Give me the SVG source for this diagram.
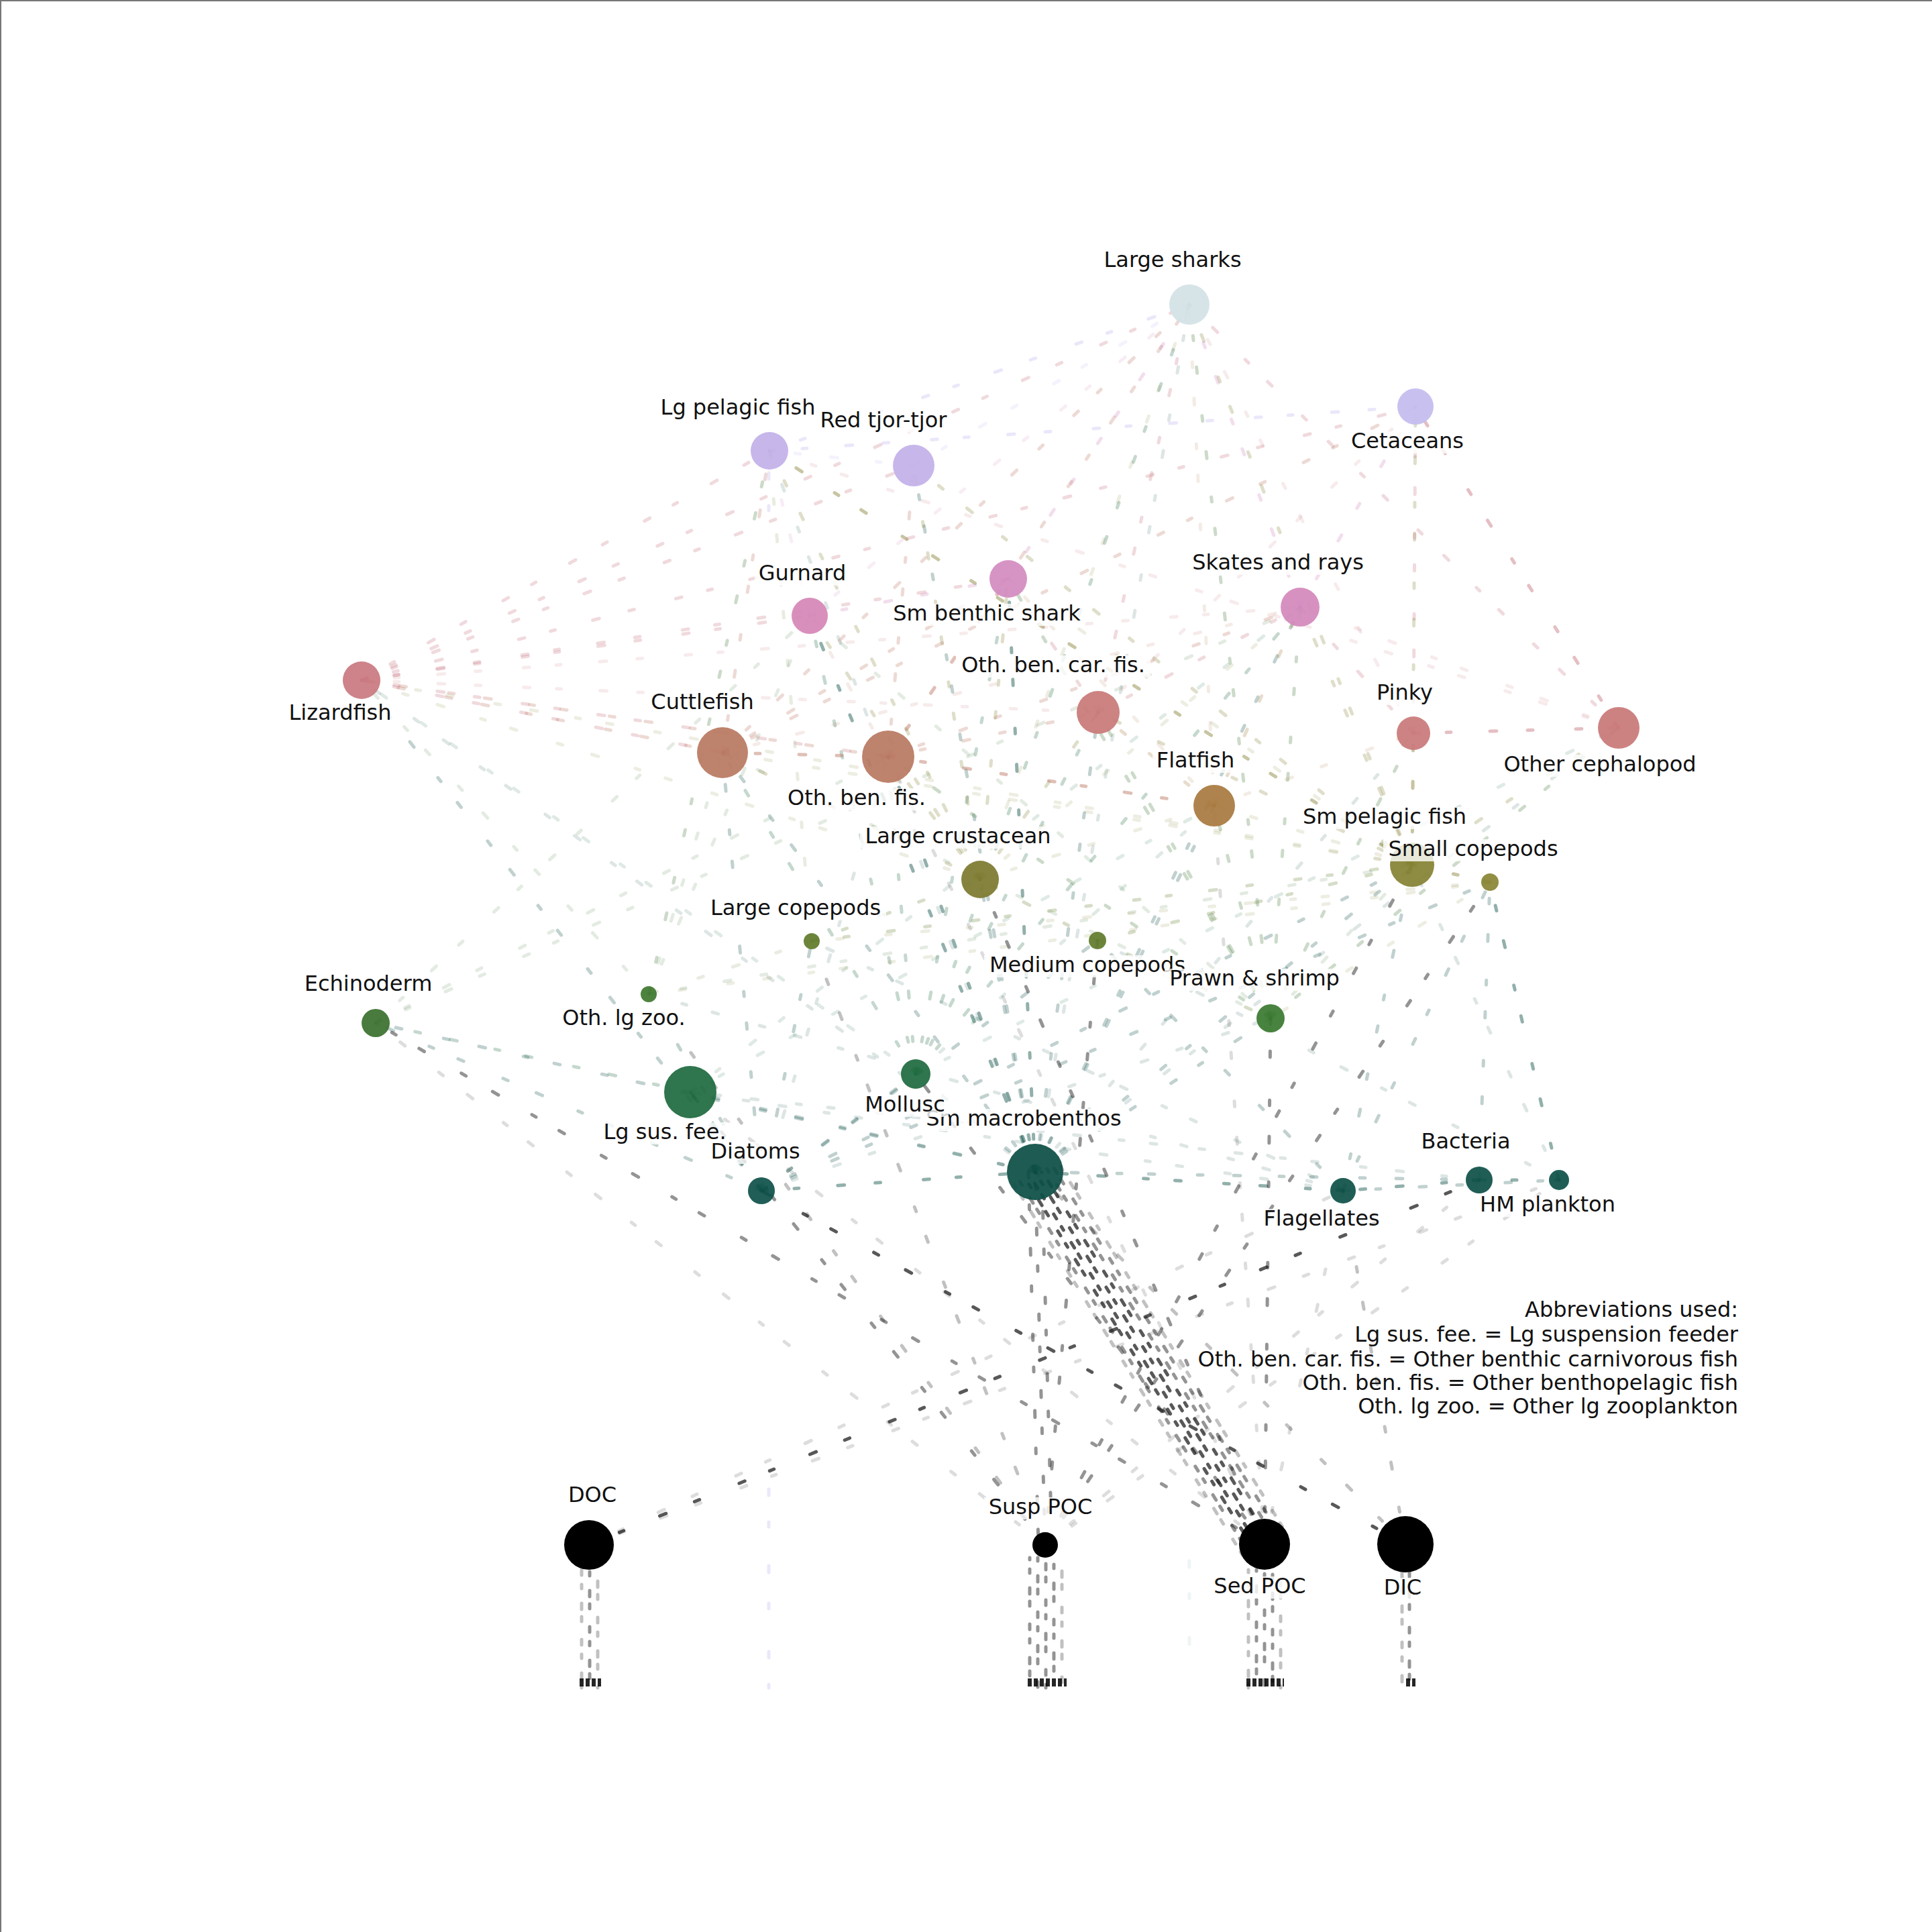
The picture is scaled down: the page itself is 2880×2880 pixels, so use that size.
<svg xmlns="http://www.w3.org/2000/svg" width="2880" height="2880" viewBox="0 0 2880 2880">
<style>
.e{fill:none;stroke-linecap:round;stroke-width:5;stroke-dasharray:9 40 7 58 10 46 8 64}
.v{fill:none;stroke-linecap:round;stroke-width:5;stroke-dasharray:8 14 6 22 9 11 7 27}
.a1{stroke-opacity:.14}.a2{stroke-opacity:.26}.a3{stroke-opacity:.45}.a4{stroke-opacity:.7}
.gd{stroke:#0d4f45}.gm{stroke:#3a7430}.gs{stroke:#1f6a40}.ol{stroke:#827e32}.oc{stroke:#5f7a2a}
.br{stroke:#b8705e}.rd{stroke:#c4707a}.pk{stroke:#cc7fb4}.ff{stroke:#a8793f}.lv{stroke:#b3a2ea}.lb{stroke:#bcd3da}.bk{stroke:#111}
.n{stroke:none;fill-opacity:.93}
.lb-box{fill:#fff;fill-opacity:.8}
text{font-family:"DejaVu Sans","Liberation Sans",sans-serif;font-size:32px;fill:#111;text-anchor:middle}
.abbr{text-anchor:end}
</style>
<rect width="2880" height="2880" fill="#fff"/>
<path d="M1 2880V1H2880" fill="none" stroke="#777" stroke-width="2"/>
<g id="connectors">
<line class="e gd a1" x1="1543" y1="1747" x2="539" y2="1014"/>
<line class="e gd a3" x1="1543" y1="1747" x2="1207" y2="918"/>
<line class="e gd a2" x1="1543" y1="1747" x2="1077" y2="1122"/>
<line class="e gd a3" x1="1543" y1="1747" x2="1324" y2="1128"/>
<line class="e gd a2" x1="1543" y1="1747" x2="1637" y2="1062"/>
<line class="e gd a2" x1="1543" y1="1747" x2="1810" y2="1201"/>
<line class="e gd a3" x1="1543" y1="1747" x2="1503" y2="863"/>
<line class="e gd a2" x1="1543" y1="1747" x2="1938" y2="905"/>
<line class="e gd a2" x1="1543" y1="1747" x2="1461" y2="1311"/>
<line class="e gd a2" x1="1543" y1="1747" x2="1894" y2="1518"/>
<line class="e gd a2" x1="1543" y1="1747" x2="560" y2="1525"/>
<line class="e gd a1" x1="1543" y1="1747" x2="2107" y2="1093"/>
<line class="e gd a2" x1="1543" y1="1747" x2="1362" y2="694"/>
<line class="e gd a1" x1="1543" y1="1747" x2="1147" y2="672"/>
<line class="e gd a1" x1="1543" y1="1747" x2="2413" y2="1085"/>
<line class="e gd a2" x1="1543" y1="1747" x2="2105" y2="1289"/>
<line class="e gd a2" x1="1543" y1="1747" x2="1029" y2="1628"/>
<line class="e gd a2" x1="1543" y1="1747" x2="1365" y2="1601"/>
<line class="e gd a1" x1="1543" y1="1747" x2="1773" y2="454"/>
<line class="e gd a3" x1="1135" y1="1775" x2="1029" y2="1628"/>
<line class="e gd a2" x1="1135" y1="1775" x2="1365" y2="1601"/>
<line class="e gd a2" x1="1135" y1="1775" x2="967" y2="1482"/>
<line class="e gd a2" x1="1135" y1="1775" x2="2221" y2="1315"/>
<line class="e gd a2" x1="1135" y1="1775" x2="1636" y2="1402"/>
<line class="e gd a2" x1="1135" y1="1775" x2="1210" y2="1403"/>
<line class="e gd a3" x1="1135" y1="1775" x2="1543" y2="1747"/>
<line class="e gd a2" x1="1135" y1="1775" x2="560" y2="1525"/>
<line class="e gd a1" x1="1135" y1="1775" x2="1894" y2="1518"/>
<line class="e gd a2" x1="1135" y1="1775" x2="2105" y2="1289"/>
<line class="e gd a2" x1="1135" y1="1775" x2="1077" y2="1122"/>
<line class="e gd a2" x1="1135" y1="1775" x2="539" y2="1014"/>
<line class="e gd a1" x1="1135" y1="1775" x2="1324" y2="1128"/>
<line class="e gd a2" x1="2002" y1="1775" x2="2221" y2="1315"/>
<line class="e gd a2" x1="2002" y1="1775" x2="1636" y2="1402"/>
<line class="e gd a1" x1="2002" y1="1775" x2="1210" y2="1403"/>
<line class="e gd a1" x1="2002" y1="1775" x2="1029" y2="1628"/>
<line class="e gd a3" x1="2002" y1="1775" x2="1543" y2="1747"/>
<line class="e gd a2" x1="2002" y1="1775" x2="2324" y2="1759"/>
<line class="e gd a1" x1="2002" y1="1775" x2="967" y2="1482"/>
<line class="e gd a2" x1="2002" y1="1775" x2="2105" y2="1289"/>
<line class="e gd a3" x1="2205" y1="1759" x2="2002" y2="1775"/>
<line class="e gd a3" x1="2205" y1="1759" x2="2324" y2="1759"/>
<line class="e gd a2" x1="2205" y1="1759" x2="1543" y2="1747"/>
<line class="e gd a1" x1="2205" y1="1759" x2="1029" y2="1628"/>
<line class="e gd a2" x1="2205" y1="1759" x2="2221" y2="1315"/>
<line class="e gd a3" x1="2324" y1="1759" x2="2221" y2="1315"/>
<line class="e gd a1" x1="2324" y1="1759" x2="1636" y2="1402"/>
<line class="e gd a1" x1="2324" y1="1759" x2="2105" y2="1289"/>
<line class="e gm a1" x1="560" y1="1525" x2="1938" y2="905"/>
<line class="e gm a1" x1="560" y1="1525" x2="1207" y2="918"/>
<line class="e gm a1" x1="560" y1="1525" x2="1324" y2="1128"/>
<line class="e gm a2" x1="1894" y1="1518" x2="1810" y2="1201"/>
<line class="e gm a2" x1="1894" y1="1518" x2="1637" y2="1062"/>
<line class="e gm a2" x1="1894" y1="1518" x2="2107" y2="1093"/>
<line class="e gm a2" x1="1894" y1="1518" x2="1938" y2="905"/>
<line class="e gm a1" x1="1894" y1="1518" x2="1207" y2="918"/>
<line class="e gm a2" x1="1894" y1="1518" x2="1324" y2="1128"/>
<line class="e gm a1" x1="1894" y1="1518" x2="1077" y2="1122"/>
<line class="e gm a2" x1="1894" y1="1518" x2="1503" y2="863"/>
<line class="e gm a2" x1="1894" y1="1518" x2="2413" y2="1085"/>
<line class="e gm a2" x1="1894" y1="1518" x2="1773" y2="454"/>
<line class="e gm a1" x1="1894" y1="1518" x2="2105" y2="1289"/>
<line class="e gm a1" x1="967" y1="1482" x2="2105" y2="1289"/>
<line class="e gm a2" x1="967" y1="1482" x2="1147" y2="672"/>
<line class="e gm a1" x1="967" y1="1482" x2="1077" y2="1122"/>
<line class="e gm a1" x1="967" y1="1482" x2="539" y2="1014"/>
<line class="e gm a1" x1="967" y1="1482" x2="1207" y2="918"/>
<line class="e gs a2" x1="1029" y1="1628" x2="560" y2="1525"/>
<line class="e gs a1" x1="1029" y1="1628" x2="1938" y2="905"/>
<line class="e gs a1" x1="1029" y1="1628" x2="1810" y2="1201"/>
<line class="e gs a2" x1="1365" y1="1601" x2="1077" y2="1122"/>
<line class="e gs a2" x1="1365" y1="1601" x2="1324" y2="1128"/>
<line class="e gs a2" x1="1365" y1="1601" x2="1938" y2="905"/>
<line class="e gs a1" x1="1365" y1="1601" x2="2413" y2="1085"/>
<line class="e gs a2" x1="1365" y1="1601" x2="1207" y2="918"/>
<line class="e gs a2" x1="1365" y1="1601" x2="1503" y2="863"/>
<line class="e gs a2" x1="1365" y1="1601" x2="1773" y2="454"/>
<line class="e gs a1" x1="1365" y1="1601" x2="1810" y2="1201"/>
<line class="e gs a1" x1="1365" y1="1601" x2="539" y2="1014"/>
<line class="e gs a2" x1="1365" y1="1601" x2="1637" y2="1062"/>
<line class="e ol a2" x1="1461" y1="1311" x2="1324" y2="1128"/>
<line class="e ol a2" x1="1461" y1="1311" x2="1637" y2="1062"/>
<line class="e ol a2" x1="1461" y1="1311" x2="1207" y2="918"/>
<line class="e ol a1" x1="1461" y1="1311" x2="539" y2="1014"/>
<line class="e ol a2" x1="1461" y1="1311" x2="1077" y2="1122"/>
<line class="e ol a2" x1="1461" y1="1311" x2="1147" y2="672"/>
<line class="e ol a2" x1="1461" y1="1311" x2="1362" y2="694"/>
<line class="e ol a2" x1="1461" y1="1311" x2="1503" y2="863"/>
<line class="e ol a1" x1="1461" y1="1311" x2="1773" y2="454"/>
<line class="e ol a1" x1="1461" y1="1311" x2="1938" y2="905"/>
<line class="e ol a1" x1="1461" y1="1311" x2="1810" y2="1201"/>
<line class="e ol a3" x1="2221" y1="1315" x2="2105" y2="1289"/>
<line class="e ol a1" x1="2221" y1="1315" x2="1210" y2="1403"/>
<line class="e ol a1" x1="2221" y1="1315" x2="967" y2="1482"/>
<line class="e ol a1" x1="2221" y1="1315" x2="1894" y2="1518"/>
<line class="e ol a3" x1="2105" y1="1289" x2="1147" y2="672"/>
<line class="e ol a2" x1="2105" y1="1289" x2="2110" y2="606"/>
<line class="e ol a2" x1="2105" y1="1289" x2="1938" y2="905"/>
<line class="e ol a2" x1="2105" y1="1289" x2="2413" y2="1085"/>
<line class="e ol a2" x1="2105" y1="1289" x2="2107" y2="1093"/>
<line class="e ol a2" x1="2105" y1="1289" x2="1773" y2="454"/>
<line class="e ol a2" x1="2105" y1="1289" x2="1362" y2="694"/>
<line class="e ol a1" x1="2105" y1="1289" x2="1077" y2="1122"/>
<line class="e ol a1" x1="2105" y1="1289" x2="539" y2="1014"/>
<line class="e ol a2" x1="2105" y1="1289" x2="1637" y2="1062"/>
<line class="e ol a1" x1="2105" y1="1289" x2="1810" y2="1201"/>
<line class="e ol a1" x1="2105" y1="1289" x2="1503" y2="863"/>
<line class="e oc a2" x1="1210" y1="1403" x2="2105" y2="1289"/>
<line class="e oc a2" x1="1210" y1="1403" x2="1461" y2="1311"/>
<line class="e oc a1" x1="1210" y1="1403" x2="967" y2="1482"/>
<line class="e oc a1" x1="1210" y1="1403" x2="1147" y2="672"/>
<line class="e oc a2" x1="1636" y1="1402" x2="2105" y2="1289"/>
<line class="e oc a2" x1="1636" y1="1402" x2="1461" y2="1311"/>
<line class="e oc a2" x1="1636" y1="1402" x2="1894" y2="1518"/>
<line class="e br a3" x1="1077" y1="1122" x2="1324" y2="1128"/>
<line class="e br a2" x1="1077" y1="1122" x2="539" y2="1014"/>
<line class="e br a2" x1="1077" y1="1122" x2="1773" y2="454"/>
<line class="e br a2" x1="1077" y1="1122" x2="1503" y2="863"/>
<line class="e br a1" x1="1077" y1="1122" x2="1938" y2="905"/>
<line class="e br a2" x1="1077" y1="1122" x2="1147" y2="672"/>
<line class="e br a2" x1="1077" y1="1122" x2="2110" y2="606"/>
<line class="e br a3" x1="1324" y1="1128" x2="1810" y2="1201"/>
<line class="e br a2" x1="1324" y1="1128" x2="539" y2="1014"/>
<line class="e br a2" x1="1324" y1="1128" x2="1637" y2="1062"/>
<line class="e br a2" x1="1324" y1="1128" x2="1773" y2="454"/>
<line class="e br a2" x1="1324" y1="1128" x2="1503" y2="863"/>
<line class="e br a2" x1="1324" y1="1128" x2="1938" y2="905"/>
<line class="e br a2" x1="1324" y1="1128" x2="1362" y2="694"/>
<line class="e br a1" x1="1324" y1="1128" x2="1207" y2="918"/>
<line class="e rd a2" x1="1637" y1="1062" x2="1938" y2="905"/>
<line class="e rd a2" x1="1637" y1="1062" x2="1773" y2="454"/>
<line class="e rd a2" x1="1637" y1="1062" x2="1503" y2="863"/>
<line class="e rd a1" x1="1637" y1="1062" x2="2110" y2="606"/>
<line class="e rd a3" x1="2107" y1="1093" x2="2413" y2="1085"/>
<line class="e rd a2" x1="2107" y1="1093" x2="2110" y2="606"/>
<line class="e rd a1" x1="2107" y1="1093" x2="1773" y2="454"/>
<line class="e rd a2" x1="2107" y1="1093" x2="1938" y2="905"/>
<line class="e rd a3" x1="2413" y1="1085" x2="2110" y2="606"/>
<line class="e rd a2" x1="2413" y1="1085" x2="1773" y2="454"/>
<line class="e rd a1" x1="2413" y1="1085" x2="1938" y2="905"/>
<line class="e rd a1" x1="2413" y1="1085" x2="1147" y2="672"/>
<line class="e rd a2" x1="539" y1="1014" x2="1207" y2="918"/>
<line class="e rd a2" x1="539" y1="1014" x2="1503" y2="863"/>
<line class="e rd a2" x1="539" y1="1014" x2="1773" y2="454"/>
<line class="e rd a2" x1="539" y1="1014" x2="1077" y2="1122"/>
<line class="e rd a2" x1="539" y1="1014" x2="1324" y2="1128"/>
<line class="e rd a1" x1="539" y1="1014" x2="1938" y2="905"/>
<line class="e rd a2" x1="539" y1="1014" x2="1362" y2="694"/>
<line class="e rd a2" x1="539" y1="1014" x2="1147" y2="672"/>
<line class="e rd a2" x1="539" y1="1014" x2="2110" y2="606"/>
<line class="e rd a1" x1="539" y1="1014" x2="1637" y2="1062"/>
<line class="e ff a2" x1="1810" y1="1201" x2="1938" y2="905"/>
<line class="e ff a2" x1="1810" y1="1201" x2="1637" y2="1062"/>
<line class="e ff a1" x1="1810" y1="1201" x2="2107" y2="1093"/>
<line class="e ff a1" x1="1810" y1="1201" x2="1773" y2="454"/>
<line class="e ff a1" x1="1810" y1="1201" x2="1503" y2="863"/>
<line class="e pk a2" x1="1207" y1="918" x2="1503" y2="863"/>
<line class="e pk a1" x1="1207" y1="918" x2="1773" y2="454"/>
<line class="e pk a1" x1="1207" y1="918" x2="1147" y2="672"/>
<line class="e pk a2" x1="1503" y1="863" x2="1773" y2="454"/>
<line class="e pk a2" x1="1938" y1="905" x2="1773" y2="454"/>
<line class="e pk a2" x1="1938" y1="905" x2="2110" y2="606"/>
<line class="e lv a2" x1="1147" y1="672" x2="1773" y2="454"/>
<line class="e lv a2" x1="1147" y1="672" x2="2110" y2="606"/>
<line class="e lv a1" x1="1362" y1="694" x2="1147" y2="672"/>
<line class="e lv a1" x1="1362" y1="694" x2="1773" y2="454"/>
<line class="e bk a3" x1="1885" y1="2302" x2="560" y2="1525"/>
<line class="e bk a3" x1="1885" y1="2302" x2="1894" y2="1518"/>
<line class="e bk a3" x1="1885" y1="2302" x2="1461" y2="1311"/>
<line class="e bk a3" x1="1885" y1="2302" x2="1365" y2="1601"/>
<line class="e bk a1" x1="1885" y1="2302" x2="1029" y2="1628"/>
<line class="e bk a1" x1="1885" y1="2302" x2="1810" y2="1201"/>
<line class="e bk a1" x1="1885" y1="2302" x2="1324" y2="1128"/>
<line class="e bk a1" x1="1885" y1="2302" x2="2002" y2="1775"/>
<line class="e bk a3" x1="1558" y1="2303" x2="1029" y2="1628"/>
<line class="e bk a3" x1="1558" y1="2303" x2="2221" y2="1315"/>
<line class="e bk a3" x1="1558" y1="2303" x2="2105" y2="1289"/>
<line class="e bk a3" x1="1558" y1="2303" x2="1636" y2="1402"/>
<line class="e bk a2" x1="1558" y1="2303" x2="1210" y2="1403"/>
<line class="e bk a2" x1="1558" y1="2303" x2="967" y2="1482"/>
<line class="e bk a1" x1="1558" y1="2303" x2="560" y2="1525"/>
<line class="e bk a1" x1="1558" y1="2303" x2="2205" y2="1759"/>
<line class="e bk a1" x1="1558" y1="2303" x2="2324" y2="1759"/>
<line class="e bk a4" x1="2095" y1="2302" x2="1135" y2="1775"/>
<line class="e bk a2" x1="2095" y1="2302" x2="1543" y2="1747"/>
<line class="e bk a2" x1="2095" y1="2302" x2="2002" y2="1775"/>
<line class="e bk a4" x1="878" y1="2303" x2="2205" y2="1759"/>
<line class="e bk a1" x1="878" y1="2303" x2="2002" y2="1775"/>
<line class="e bk a1" x1="878" y1="2303" x2="2324" y2="1759"/>
<line class="v bk a2" x1="1512" y1="1766" x2="1854" y2="2321" stroke-dashoffset="3"/>
<line class="v bk a3" x1="1520" y1="1761" x2="1862" y2="2316" stroke-dashoffset="21"/>
<line class="v bk a4" x1="1528" y1="1756" x2="1870" y2="2311" stroke-dashoffset="11"/>
<line class="v bk a4" x1="1535" y1="1752" x2="1877" y2="2307" stroke-dashoffset="36"/>
<line class="v bk a4" x1="1543" y1="1747" x2="1885" y2="2302" stroke-dashoffset="6"/>
<line class="v bk a4" x1="1551" y1="1742" x2="1893" y2="2297" stroke-dashoffset="28"/>
<line class="v bk a3" x1="1558" y1="1738" x2="1900" y2="2293" stroke-dashoffset="17"/>
<line class="v bk a3" x1="1566" y1="1733" x2="1908" y2="2288" stroke-dashoffset="40"/>
<line class="v bk a2" x1="1574" y1="1728" x2="1916" y2="2283" stroke-dashoffset="9"/>
<line class="e bk a3" x1="1533" y1="1747" x2="1548" y2="2303"/>
<line class="e bk a3" x1="1543" y1="1747" x2="1558" y2="2303" stroke-dashoffset="30"/>
<line class="e bk a3" x1="1553" y1="1747" x2="1568" y2="2303" stroke-dashoffset="55"/>
<line class="v bk a2" x1="867" y1="2340" x2="867" y2="2516"/>
<line class="v bk a3" x1="879" y1="2340" x2="879" y2="2516" stroke-dashoffset="19"/>
<line class="v bk a2" x1="891" y1="2340" x2="891" y2="2516" stroke-dashoffset="33"/>
<line class="v bk a3" x1="1535" y1="2322" x2="1535" y2="2516" stroke-dashoffset="5"/>
<line class="v bk a3" x1="1547" y1="2322" x2="1547" y2="2516" stroke-dashoffset="23"/>
<line class="v bk a3" x1="1559" y1="2322" x2="1559" y2="2516" stroke-dashoffset="41"/>
<line class="v bk a3" x1="1571" y1="2322" x2="1571" y2="2516" stroke-dashoffset="12"/>
<line class="v bk a2" x1="1583" y1="2322" x2="1583" y2="2516" stroke-dashoffset="30"/>
<line class="v bk a2" x1="1861" y1="2340" x2="1861" y2="2516" stroke-dashoffset="4"/>
<line class="v bk a3" x1="1873" y1="2340" x2="1873" y2="2516" stroke-dashoffset="26"/>
<line class="v bk a3" x1="1885" y1="2340" x2="1885" y2="2516" stroke-dashoffset="44"/>
<line class="v bk a3" x1="1897" y1="2340" x2="1897" y2="2516" stroke-dashoffset="15"/>
<line class="v bk a2" x1="1909" y1="2340" x2="1909" y2="2516" stroke-dashoffset="35"/>
<line class="v bk a2" x1="2090" y1="2344" x2="2090" y2="2516"/>
<line class="v bk a3" x1="2101" y1="2344" x2="2101" y2="2516" stroke-dashoffset="22"/>
<line class="e lv a2" x1="1146" y1="705" x2="1146" y2="810"/>
<line class="e lv a2" x1="1146" y1="2220" x2="1146" y2="2516"/>
<line class="e lb a2" x1="1773" y1="2327" x2="1773" y2="2473"/>
<path d="M864 2508h32M1532 2508h58M1858 2508h56M2096 2508h14" stroke="#000" stroke-width="12" stroke-dasharray="6 3" stroke-opacity=".85"/>
</g>
<g id="node-large-sharks"><circle class="n" cx="1773" cy="454" r="30" fill="#d3e2e6"/><rect class="lb-box" x="1639" y="373" width="218" height="33"/><text x="1748" y="398">Large sharks</text></g>
<g id="node-cetaceans"><circle class="n" cx="2110" cy="606" r="27" fill="#c4bcef"/><rect class="lb-box" x="2009" y="643" width="178" height="33"/><text x="2098" y="668">Cetaceans</text></g>
<g id="node-lg-pelagic-fish"><circle class="n" cx="1147" cy="672" r="28" fill="#c3b0e8"/><rect class="lb-box" x="979" y="593" width="242" height="33"/><text x="1100" y="618">Lg pelagic fish</text></g>
<g id="node-red-tjor-tjor"><circle class="n" cx="1362" cy="694" r="31" fill="#c3b0e8"/><rect class="lb-box" x="1217" y="612" width="200" height="33"/><text x="1317" y="637">Red tjor-tjor</text></g>
<g id="node-gurnard"><circle class="n" cx="1207" cy="918" r="27" fill="#d587b7"/><rect class="lb-box" x="1125" y="840" width="142" height="33"/><text x="1196" y="865">Gurnard</text></g>
<g id="node-sm-benthic-shark"><circle class="n" cx="1503" cy="863" r="28" fill="#d38cbf"/><rect class="lb-box" x="1324" y="900" width="294" height="33"/><text x="1471" y="925">Sm benthic shark</text></g>
<g id="node-skates-and-rays"><circle class="n" cx="1938" cy="905" r="29" fill="#d389bc"/><rect class="lb-box" x="1769" y="824" width="272" height="33"/><text x="1905" y="849">Skates and rays</text></g>
<g id="node-lizardfish"><circle class="n" cx="539" cy="1014" r="28" fill="#c97a80"/><rect class="lb-box" x="426" y="1048" width="162" height="33"/><text x="507" y="1073">Lizardfish</text></g>
<g id="node-cuttlefish"><circle class="n" cx="1077" cy="1122" r="38" fill="#b97a62"/><rect class="lb-box" x="965" y="1032" width="164" height="33"/><text x="1047" y="1057">Cuttlefish</text></g>
<g id="node-oth-ben-fis"><circle class="n" cx="1324" cy="1128" r="39" fill="#b97a62"/><rect class="lb-box" x="1165" y="1175" width="224" height="33"/><text x="1277" y="1200">Oth. ben. fis.</text></g>
<g id="node-oth-ben-car-fis"><circle class="n" cx="1637" cy="1062" r="32" fill="#c87a78"/><rect class="lb-box" x="1425" y="977" width="290" height="33"/><text x="1570" y="1002">Oth. ben. car. fis.</text></g>
<g id="node-pinky"><circle class="n" cx="2107" cy="1093" r="25" fill="#c97a7a"/><rect class="lb-box" x="2047" y="1018" width="94" height="33"/><text x="2094" y="1043">Pinky</text></g>
<g id="node-other-cephalopod"><circle class="n" cx="2413" cy="1085" r="31" fill="#c97878"/><rect class="lb-box" x="2233" y="1125" width="304" height="33"/><text x="2385" y="1150">Other cephalopod</text></g>
<g id="node-flatfish"><circle class="n" cx="1810" cy="1201" r="31" fill="#a97a40"/><rect class="lb-box" x="1718" y="1119" width="128" height="33"/><text x="1782" y="1144">Flatfish</text></g>
<g id="node-sm-pelagic-fish"><circle class="n" cx="2105" cy="1289" r="33" fill="#858234"/><rect class="lb-box" x="1935" y="1203" width="258" height="33"/><text x="2064" y="1228">Sm pelagic fish</text></g>
<g id="node-small-copepods"><circle class="n" cx="2221" cy="1315" r="13" fill="#8a8535"/><rect class="lb-box" x="2062" y="1251" width="268" height="33"/><text x="2196" y="1276">Small copepods</text></g>
<g id="node-large-crustacean"><circle class="n" cx="1461" cy="1311" r="28" fill="#7d7a30"/><rect class="lb-box" x="1282" y="1232" width="292" height="33"/><text x="1428" y="1257">Large crustacean</text></g>
<g id="node-large-copepods"><circle class="n" cx="1210" cy="1403" r="12" fill="#627c2c"/><rect class="lb-box" x="1051" y="1339" width="270" height="33"/><text x="1186" y="1364">Large copepods</text></g>
<g id="node-medium-copepods"><circle class="n" cx="1636" cy="1402" r="13" fill="#627c2c"/><rect class="lb-box" x="1467" y="1424" width="308" height="33"/><text x="1621" y="1449">Medium copepods</text></g>
<g id="node-prawn-shrimp"><circle class="n" cx="1894" cy="1518" r="21" fill="#3a7a30"/><rect class="lb-box" x="1736" y="1444" width="268" height="33"/><text x="1870" y="1469">Prawn &amp; shrimp</text></g>
<g id="node-oth-lg-zoo"><circle class="n" cx="967" cy="1482" r="12" fill="#3f7a30"/><rect class="lb-box" x="833" y="1503" width="194" height="33"/><text x="930" y="1528">Oth. lg zoo.</text></g>
<g id="node-echinoderm"><circle class="n" cx="560" cy="1525" r="21" fill="#3b702f"/><rect class="lb-box" x="449" y="1452" width="200" height="33"/><text x="549" y="1477">Echinoderm</text></g>
<g id="node-lg-sus-fee"><circle class="n" cx="1029" cy="1628" r="39" fill="#1f6a40"/><rect class="lb-box" x="894" y="1673" width="194" height="33"/><text x="991" y="1698">Lg sus. fee.</text></g>
<g id="node-sm-macrobenthos"><circle class="n" cx="1543" cy="1747" r="42" fill="#0d4f45"/><rect class="lb-box" x="1372" y="1653" width="308" height="33"/><text x="1526" y="1678">Sm macrobenthos</text></g>
<g id="node-mollusc"><circle class="n" cx="1365" cy="1601" r="22" fill="#1f6a40"/><rect class="lb-box" x="1284" y="1632" width="130" height="33"/><text x="1349" y="1657">Mollusc</text></g>
<g id="node-diatoms"><circle class="n" cx="1135" cy="1775" r="20" fill="#0f524a"/><rect class="lb-box" x="1053" y="1702" width="146" height="33"/><text x="1126" y="1727">Diatoms</text></g>
<g id="node-flagellates"><circle class="n" cx="2002" cy="1775" r="19" fill="#0f5248"/><rect class="lb-box" x="1878" y="1802" width="184" height="33"/><text x="1970" y="1827">Flagellates</text></g>
<g id="node-bacteria"><circle class="n" cx="2205" cy="1759" r="20" fill="#0f5248"/><rect class="lb-box" x="2112" y="1687" width="146" height="33"/><text x="2185" y="1712">Bacteria</text></g>
<g id="node-hm-plankton"><circle class="n" cx="2324" cy="1759" r="15" fill="#0f5248"/><rect class="lb-box" x="2199" y="1781" width="216" height="33"/><text x="2307" y="1806">HM plankton</text></g>
<g id="node-doc"><circle cx="878" cy="2303" r="37" fill="#000"/><rect class="lb-box" x="842" y="2214" width="82" height="33"/><text x="883" y="2239">DOC</text></g>
<g id="node-susp-poc"><circle cx="1558" cy="2303" r="19" fill="#000"/><rect class="lb-box" x="1467" y="2232" width="168" height="33"/><text x="1551" y="2257">Susp POC</text></g>
<g id="node-sed-poc"><circle cx="1885" cy="2302" r="38" fill="#000"/><rect class="lb-box" x="1803" y="2350" width="150" height="33"/><text x="1878" y="2375">Sed POC</text></g>
<g id="node-dic"><circle cx="2095" cy="2302" r="42" fill="#000"/><rect class="lb-box" x="2059" y="2352" width="64" height="33"/><text x="2091" y="2377">DIC</text></g>
<g id="abbreviations">
<text class="abbr" x="2591" y="1963">Abbreviations used:</text>
<text class="abbr" x="2591" y="2000">Lg sus. fee. = Lg suspension feeder</text>
<text class="abbr" x="2591" y="2037">Oth. ben. car. fis. = Other benthic carnivorous fish</text>
<text class="abbr" x="2591" y="2072">Oth. ben. fis. = Other benthopelagic fish</text>
<text class="abbr" x="2591" y="2107">Oth. lg zoo. = Other lg zooplankton</text>
</g>
</svg>
